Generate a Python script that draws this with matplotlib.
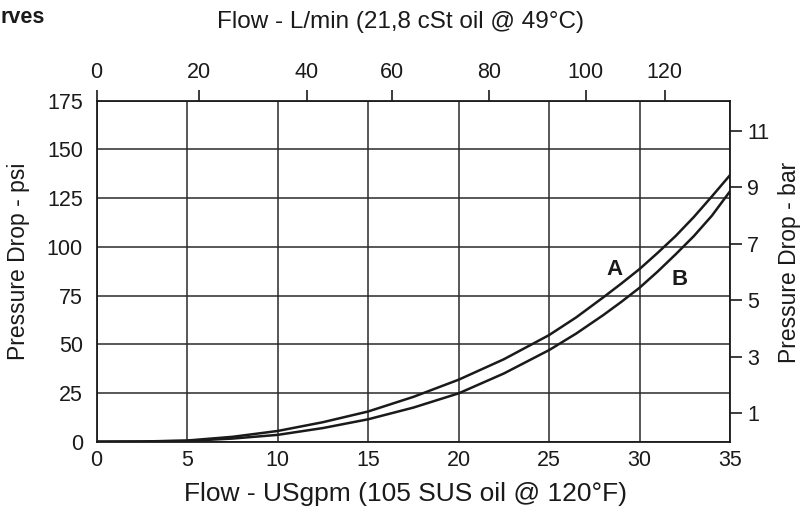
import matplotlib
matplotlib.use("Agg")
import matplotlib.pyplot as plt
from matplotlib import font_manager

# ---- data ----
flow_A_gpm = [0, 2.5, 5, 7.5, 10, 12.5, 15, 17.5, 20, 22.5, 25, 26.5, 28, 29, 30, 31, 32, 33, 34, 35]
dp_A_psi = [0, 0.1, 0.6, 2.5, 5.5, 10, 15.5, 23, 31.8, 42.3, 54.7, 63.8, 74.1, 81.2, 88.6, 96.9, 105.6, 115.3, 125.9, 136.8]
flow_B_gpm = [0, 2.5, 5, 7.5, 10, 12.5, 15, 17.5, 20, 22.5, 25, 26.5, 28, 29, 30, 31, 32, 33, 34, 35]
dp_B_psi = [0, 0.1, 0.4, 1.6, 3.5, 7, 11.5, 17.5, 24.8, 35, 47, 55.5, 65, 71.8, 79, 87.3, 96.2, 105.5, 116, 128.5]

x_ticks = [0, 5, 10, 15, 20, 25, 30, 35]
y_ticks_psi = [0, 25, 50, 75, 100, 125, 150, 175]
top_tick_labels = ["0", "20", "40", "60", "80", "100", "120"]
top_tick_pos_gpm = [0, 5.65, 11.6, 16.3, 21.67, 27.03, 31.4]
bar_ticks = [1, 3, 5, 7, 9, 11]
PSI_PER_BAR = 14.5

labels_curves = ["A", "B"]
label_pos = [(28.6, 88.5), (32.2, 83.0)]

# ---- fonts ----
avail = {f.name for f in font_manager.fontManager.ttflist}
main_font = "Liberation Sans" if "Liberation Sans" in avail else "DejaVu Sans"
plt.rcParams["font.family"] = [main_font, "DejaVu Sans"]

fig = plt.figure(figsize=(8.07, 5.07), dpi=100)
ax = fig.add_axes([0.1198, 0.1288, 0.9046 - 0.1198, 0.8014 - 0.1288])

ink = "#1a1a1a"
ax.plot(flow_A_gpm, dp_A_psi, color=ink, lw=1.8, solid_capstyle="round", solid_joinstyle="round")
ax.plot(flow_B_gpm, dp_B_psi, color=ink, lw=1.8, solid_capstyle="round", solid_joinstyle="round")

ax.set_xlim(0, 35)
ax.set_ylim(0, 175)
ax.set_xticks(x_ticks)
ax.set_yticks(y_ticks_psi)
ax.grid(True, color="#2a2a2a", lw=1.1)
ax.set_axisbelow(True)
for s in ax.spines.values():
    s.set_color(ink)
    s.set_linewidth(1.3)

ax.tick_params(axis="x", length=0, pad=6, labelsize=15.5, colors=ink)
ax.tick_params(axis="y", length=0, pad=10, labelsize=15.5, colors=ink)

ax.set_xlabel("Flow - USgpm (105 SUS oil @ 120°F)", fontsize=19, color=ink)
ax.xaxis.label.set_va("center")
ax.xaxis.set_label_coords(0.488, -0.152)
ax.set_ylabel("Pressure Drop - psi", fontsize=16.5, color=ink)
ax.yaxis.label.set_va("center")
ax.yaxis.set_label_coords(-0.1227, 0.528)

# top axis (L/min)
axt = ax.twiny()
axt.set_xlim(ax.get_xlim())
axt.set_xticks(top_tick_pos_gpm)
axt.set_xticklabels(top_tick_labels)
axt.tick_params(axis="x", length=7.7, width=1.2, pad=5, labelsize=15.5, colors=ink)
axt.set_xlabel("Flow - L/min (21,8 cSt oil @ 49°C)", fontsize=17.5, color=ink)
axt.xaxis.label.set_va("center")
axt.xaxis.set_label_coords(0.479, 1.231)
for s in axt.spines.values():
    s.set_visible(False)

# right axis (bar)
axr = ax.twinx()
axr.set_ylim(0, 175 / PSI_PER_BAR)
axr.set_yticks(bar_ticks)
axr.tick_params(axis="y", length=8.6, width=1.2, pad=3.6, labelsize=15.5, colors=ink)
axr.set_ylabel("Pressure Drop - bar", fontsize=16.5, color=ink)
axr.yaxis.label.set_va("center")
axr.yaxis.set_label_coords(1.0947, 0.527)
for s in axr.spines.values():
    s.set_visible(False)

for t, (xx, yy) in zip(labels_curves, label_pos):
    ax.text(xx, yy, t, fontsize=16, fontweight="bold", ha="center", va="center", color=ink)

fig.text(0.0, 0.965, "rves", fontsize=15.5, fontweight="bold", ha="left", va="center", color=ink)

fig.savefig("out.png", dpi=100)
